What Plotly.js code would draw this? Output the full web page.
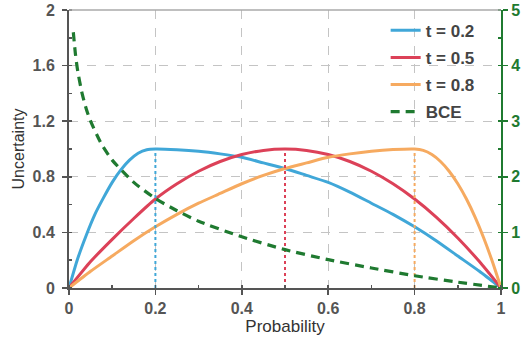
<!DOCTYPE html>
<html>
<head>
<meta charset="utf-8">
<script src="https://cdn.plot.ly/plotly-3.0.1.min.js"></script>
<style>html,body{margin:0;padding:0;background:#fff;}#chart{width:521px;height:339px;}</style>
</head>
<body>
<div id="chart"></div>
<script>
// t = 0.2
const p02 = [0, 0.02, 0.04, 0.06, 0.08, 0.10, 0.12, 0.14, 0.16, 0.18, 0.20, 0.25, 0.30, 0.35, 0.40, 0.45, 0.50, 0.55, 0.60, 0.65, 0.70, 0.75, 0.80, 0.85, 0.90, 0.95, 1.00];
const u02 = [0, 0.21, 0.38, 0.53, 0.65, 0.76, 0.85, 0.92, 0.97, 0.995, 1.0, 0.995, 0.984, 0.965, 0.94, 0.90, 0.86, 0.81, 0.76, 0.69, 0.61, 0.53, 0.44, 0.34, 0.23, 0.12, 0];
// t = 0.5
const p05 = [0, 0.05, 0.10, 0.15, 0.20, 0.25, 0.30, 0.35, 0.40, 0.45, 0.50, 0.55, 0.60, 0.65, 0.70, 0.75, 0.80, 0.85, 0.90, 0.95, 1.00];
const u05 = [0, 0.19, 0.35, 0.50, 0.64, 0.75, 0.84, 0.91, 0.96, 0.99, 1.0, 0.99, 0.96, 0.91, 0.84, 0.75, 0.64, 0.51, 0.36, 0.19, 0];
// t = 0.8
const p08 = [0, 0.05, 0.10, 0.15, 0.20, 0.25, 0.30, 0.35, 0.40, 0.45, 0.50, 0.55, 0.60, 0.65, 0.70, 0.75, 0.80, 0.82, 0.84, 0.86, 0.88, 0.90, 0.92, 0.94, 0.96, 0.98, 1.00];
const u08 = [0, 0.12, 0.23, 0.34, 0.44, 0.53, 0.61, 0.68, 0.75, 0.81, 0.86, 0.90, 0.94, 0.965, 0.984, 0.996, 1.0, 0.99, 0.96, 0.91, 0.84, 0.75, 0.64, 0.51, 0.36, 0.19, 0];
// BCE (right axis)
const pBCE = [0.01, 0.015, 0.02, 0.03, 0.04, 0.05, 0.075, 0.10, 0.15, 0.20, 0.25, 0.30, 0.40, 0.50, 0.60, 0.70, 0.80, 0.90, 1.00];
const bce  = [4.6, 4.2, 3.91, 3.51, 3.22, 3.0, 2.59, 2.30, 1.90, 1.61, 1.39, 1.20, 0.92, 0.69, 0.51, 0.36, 0.22, 0.105, 0];
// peak markers
const tVals = [0.2, 0.5, 0.8];
const peakU = [1.0, 1.0, 1.0];
const names = ['t = 0.2', 't = 0.5', 't = 0.8', 'BCE'];

const cBlue = '#40a7d8', cRed = '#dc4158', cOrange = '#f6aa60', cGreen = '#1f7a30';
const cols = [cBlue, cRed, cOrange];
const FF = 'Liberation Sans, Arial, sans-serif';

const traces = [];
[[p02,u02],[p05,u05],[p08,u08]].forEach((d,i)=>{
  traces.push({x:d[0], y:d[1], type:'scatter', mode:'lines', name:names[i], legendgroup:'g'+i,
    line:{color:cols[i], width:3, shape:'spline', smoothing:0.6}});
});
traces.push({x:pBCE, y:bce, yaxis:'y2', type:'scatter', mode:'lines', name:names[3], legendgroup:'g3',
  line:{color:cGreen, width:3.2, dash:'9px,6px', shape:'spline', smoothing:0.6}});
tVals.forEach((t,i)=>{
  traces.push({x:[t,t], y:[0,peakU[i]], type:'scatter', mode:'lines', showlegend:false,
    line:{color:cols[i], width:2, dash:'dot'}});
});

const tickFont = {family:FF, size:16, color:'#555', weight:'bold'};
const layout = {
  width:521, height:339,
  margin:{l:69, r:20, t:10, b:51},
  paper_bgcolor:'#fff', plot_bgcolor:'#fff',
  showlegend:true,
  legend:{x:0.733, y:0.99, xanchor:'left', yanchor:'top', bgcolor:'rgba(0,0,0,0)',
    font:{family:FF, size:17, color:'#444', weight:'bold'},
    itemwidth:30, traceorder:'grouped', tracegroupgap:2},
  xaxis:{range:[0,1], dtick:0.2, tick0:0, ticks:'outside', ticklen:5, tickwidth:1.5, tickcolor:'#555',
    showline:true, linecolor:'#555', linewidth:2, zeroline:false,
    showgrid:true, gridcolor:'#c4c4c4', griddash:'dash', gridwidth:1,
    tickfont:tickFont,
    minor:{dtick:0.1, ticks:'inside', ticklen:3, tickcolor:'#555', showgrid:false},
    title:{text:'Probability', font:{family:FF, size:17, color:'#333'}, standoff:3}},
  yaxis:{range:[0,2], dtick:0.4, tick0:0, ticks:'outside', ticklen:5, tickwidth:1.5, tickcolor:'#555',
    showline:true, linecolor:'#555', linewidth:2, zeroline:false,
    showgrid:true, gridcolor:'#c4c4c4', griddash:'dash', gridwidth:1,
    tickfont:tickFont, ticklabelstandoff:4,
    minor:{dtick:0.2, ticks:'inside', ticklen:3, tickcolor:'#555', showgrid:false},
    title:{text:'Uncertainty', font:{family:FF, size:16, color:'#333'}, standoff:4}},
  yaxis2:{range:[0,5], dtick:1, tick0:0, overlaying:'y', side:'right', ticks:'outside', ticklen:5, tickwidth:1.5,
    tickcolor:cGreen, showline:true, linecolor:cGreen, linewidth:2, zeroline:false, showgrid:false,
    tickfont:{family:FF, size:16, color:cGreen, weight:'bold'},
    minor:{dtick:0.5, ticks:'inside', ticklen:3, tickcolor:cGreen, showgrid:false}},
  shapes:[{type:'line', xref:'paper', yref:'paper', x0:0, x1:1, y0:1, y1:1, line:{color:'#aaa', width:1.5}}]
};
Plotly.newPlot('chart', traces, layout, {displayModeBar:false, staticPlot:true});
</script>
</body>
</html>
